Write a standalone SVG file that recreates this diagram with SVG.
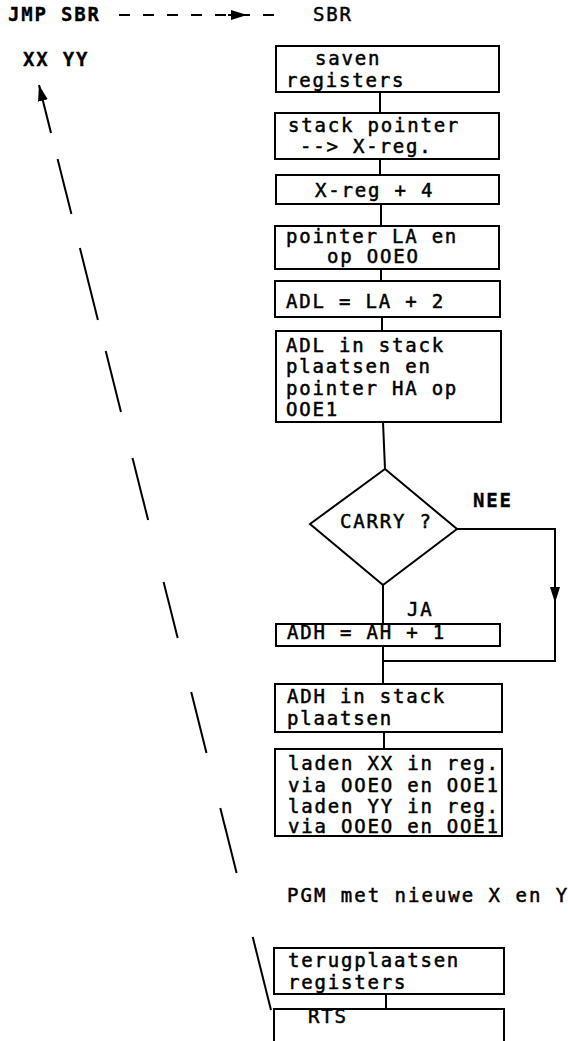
<svg xmlns="http://www.w3.org/2000/svg" width="568" height="1041" viewBox="0 0 568 1041">
<style>
.box{fill:none;stroke:#000;stroke-width:2}
.ln{fill:none;stroke:#000;stroke-width:2}
.t{font-family:"DejaVu Sans Mono","Liberation Mono",monospace;font-size:19px;letter-spacing:1.8px;fill:#000;stroke:#000;stroke-width:0.5px}
.b{font-weight:bold;stroke-width:0.3px}
</style>
<defs>
<marker id="ah" viewBox="0 0 16 10" refX="16" refY="5" markerWidth="16" markerHeight="10" markerUnits="userSpaceOnUse" orient="auto">
<path d="M0,0 L16,5 L0,10 z" fill="#000"/>
</marker>
</defs>
<g id="labels">
<text class="t b" x="8" y="21">JMP SBR</text>
<text class="t" x="313" y="21">SBR</text>
<text class="t b" x="23" y="66">XX YY</text>
<text class="t" x="287" y="902" style="letter-spacing:2px">PGM met nieuwe X en Y</text>
</g>
<g id="connectors">
<line class="ln" x1="119" y1="15" x2="285" y2="15" stroke-dasharray="11 13"/>
<line class="ln" x1="228" y1="15" x2="247" y2="15" marker-end="url(#ah)"/>
<line class="ln" x1="380" y1="92" x2="380" y2="113"/>
<line class="ln" x1="380" y1="159" x2="380" y2="175"/>
<line class="ln" x1="381" y1="204" x2="381" y2="226"/>
<line class="ln" x1="381" y1="269" x2="381" y2="281"/>
<line class="ln" x1="382" y1="317" x2="382" y2="331"/>
<line class="ln" x1="383" y1="422" x2="385" y2="469"/>
<line class="ln" x1="383" y1="585" x2="383" y2="625"/>
<line class="ln" x1="383" y1="646" x2="383" y2="684"/>
<polyline class="ln" points="457,529 555,529 555,661 383,661"/>
<line class="ln" x1="555" y1="585" x2="555" y2="603" marker-end="url(#ah)"/>
<line class="ln" x1="384" y1="732" x2="384" y2="749"/>
<line class="ln" x1="386" y1="994" x2="386" y2="1009"/>
<text class="t" x="407" y="616">JA</text>
<text class="t b" x="473" y="507">NEE</text>
<g id="return">
<line class="ln" x1="51" y1="133" x2="39" y2="85" marker-end="url(#ah)"/>
<line class="ln" x1="57.6" y1="159" x2="71.4" y2="214"/>
<line class="ln" x1="79.9" y1="248" x2="97.9" y2="320"/>
<line class="ln" x1="105.7" y1="351" x2="121" y2="412"/>
<line class="ln" x1="132.5" y1="458" x2="148.1" y2="520"/>
<line class="ln" x1="163.6" y1="582" x2="177.7" y2="638"/>
<line class="ln" x1="191.2" y1="692" x2="206.5" y2="753"/>
<line class="ln" x1="220.3" y1="808" x2="236.6" y2="873"/>
<line class="ln" x1="252.7" y1="937" x2="271" y2="1010"/>
</g>
</g>
<g id="n1"><rect class="box" x="276" y="46" width="223" height="46"/>
<text class="t" x="315" y="65">saven</text><text class="t" x="286" y="87">registers</text></g>
<g id="n2"><rect class="box" x="275" y="113" width="224" height="46"/>
<text class="t" x="288" y="132">stack pointer</text><text class="t" x="300" y="153">--&gt; X-reg.</text></g>
<g id="n3"><rect class="box" x="276" y="175" width="223" height="29"/>
<text class="t" x="315" y="197">X-reg + 4</text></g>
<g id="n4"><rect class="box" x="275" y="226" width="224" height="43"/>
<text class="t" x="286" y="243">pointer LA en</text><text class="t" x="327" y="263">op OOEO</text></g>
<g id="n5"><rect class="box" x="275" y="281" width="225" height="36"/>
<text class="t" x="286" y="308">ADL = LA + 2</text></g>
<g id="n6"><rect class="box" x="276" y="331" width="225" height="91"/>
<text class="t" x="286" y="352">ADL in stack</text><text class="t" x="286" y="373">plaatsen en</text>
<text class="t" x="286" y="395">pointer HA op</text><text class="t" x="286" y="416">OOE1</text></g>
<g id="n7"><polygon class="box" points="385,469 457,529 383,585 310,524"/>
<text class="t" x="340" y="528">CARRY ?</text></g>
<g id="n8"><rect class="box" x="276" y="624" width="224" height="22"/>
<text class="t" x="287" y="639">ADH = AH + 1</text></g>
<g id="n9"><rect class="box" x="275" y="684" width="227" height="48"/>
<text class="t" x="287" y="703">ADH in stack</text><text class="t" x="287" y="725">plaatsen</text></g>
<g id="n10"><rect class="box" x="275" y="749" width="227" height="87"/>
<text class="t" x="288" y="770">laden XX in reg.</text><text class="t" x="288" y="792">via OOEO en OOE1</text>
<text class="t" x="288" y="813">laden YY in reg.</text><text class="t" x="288" y="833">via OOEO en OOE1</text></g>
<g id="n11"><rect class="box" x="274" y="948" width="230" height="46"/>
<text class="t" x="288" y="967">terugplaatsen</text><text class="t" x="288" y="989">registers</text></g>
<g id="n12"><path class="box" d="M274,1041 L274,1009 L504,1009 L504,1041"/>
<text class="t" x="308" y="1023">RTS</text></g>
</svg>
